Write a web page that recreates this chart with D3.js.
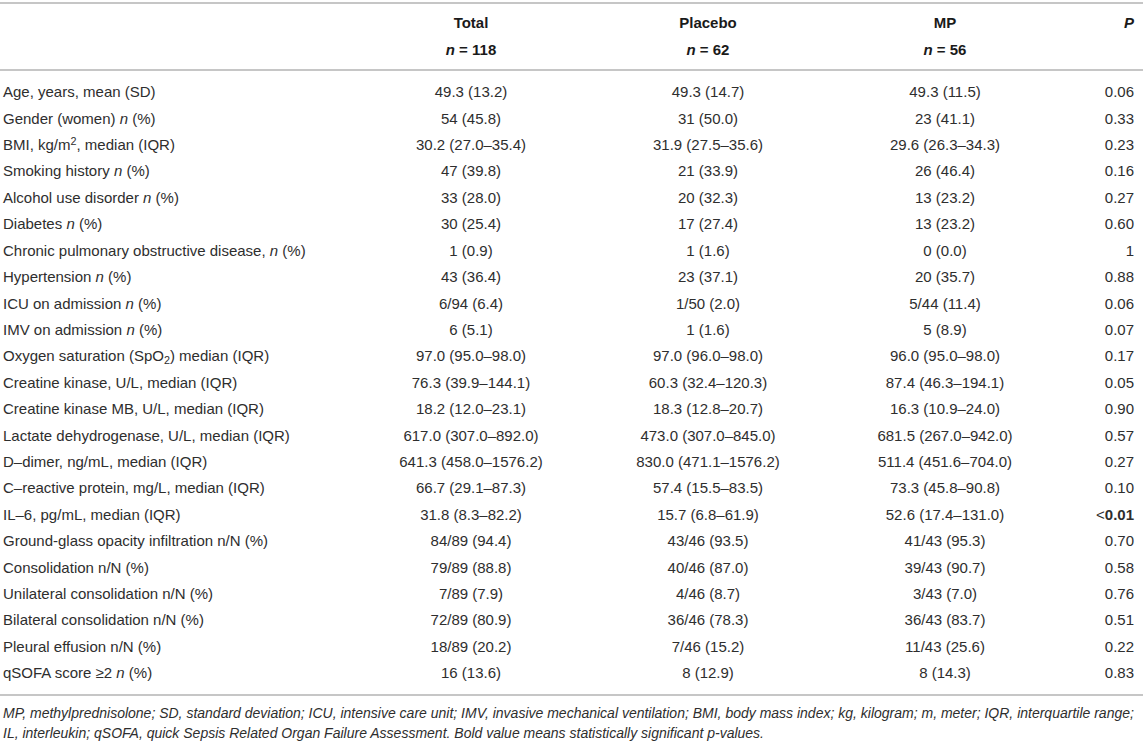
<!DOCTYPE html>
<html><head><meta charset="utf-8">
<script src="https://cdn.jsdelivr.net/npm/d3@7"></script>
<style>
html,body{margin:0;padding:0;background:#fff;}
svg{display:block;font-family:"Liberation Sans",Arial,Helvetica,sans-serif;}
</style></head>
<body>
<svg id="t" width="1143" height="743"></svg>
<script>
// ---- data ----
const columns = ["Total", "Placebo", "MP"];
const columnN = ["*n* = 118", "*n* = 62", "*n* = 56"];
const pHeader = "P";
const labels = [
  "Age, years, mean (SD)",
  "Gender (women) *n* (%)",
  "BMI, kg/m^2^, median (IQR)",
  "Smoking history *n* (%)",
  "Alcohol use disorder *n* (%)",
  "Diabetes *n* (%)",
  "Chronic pulmonary obstructive disease, *n* (%)",
  "Hypertension *n* (%)",
  "ICU on admission *n* (%)",
  "IMV on admission *n* (%)",
  "Oxygen saturation (SpO_2_) median (IQR)",
  "Creatine kinase, U/L, median (IQR)",
  "Creatine kinase MB, U/L, median (IQR)",
  "Lactate dehydrogenase, U/L, median (IQR)",
  "D–dimer, ng/mL, median (IQR)",
  "C–reactive protein, mg/L, median (IQR)",
  "IL–6, pg/mL, median (IQR)",
  "Ground-glass opacity infiltration n/N (%)",
  "Consolidation n/N (%)",
  "Unilateral consolidation n/N (%)",
  "Bilateral consolidation n/N (%)",
  "Pleural effusion n/N (%)",
  "qSOFA score ≥2 *n* (%)"
];
const totalValues = [
  "49.3 (13.2)", "54 (45.8)", "30.2 (27.0–35.4)", "47 (39.8)", "33 (28.0)",
  "30 (25.4)", "1 (0.9)", "43 (36.4)", "6/94 (6.4)", "6 (5.1)",
  "97.0 (95.0–98.0)", "76.3 (39.9–144.1)", "18.2 (12.0–23.1)", "617.0 (307.0–892.0)",
  "641.3 (458.0–1576.2)", "66.7 (29.1–87.3)", "31.8 (8.3–82.2)", "84/89 (94.4)",
  "79/89 (88.8)", "7/89 (7.9)", "72/89 (80.9)", "18/89 (20.2)", "16 (13.6)"
];
const placeboValues = [
  "49.3 (14.7)", "31 (50.0)", "31.9 (27.5–35.6)", "21 (33.9)", "20 (32.3)",
  "17 (27.4)", "1 (1.6)", "23 (37.1)", "1/50 (2.0)", "1 (1.6)",
  "97.0 (96.0–98.0)", "60.3 (32.4–120.3)", "18.3 (12.8–20.7)", "473.0 (307.0–845.0)",
  "830.0 (471.1–1576.2)", "57.4 (15.5–83.5)", "15.7 (6.8–61.9)", "43/46 (93.5)",
  "40/46 (87.0)", "4/46 (8.7)", "36/46 (78.3)", "7/46 (15.2)", "8 (12.9)"
];
const mpValues = [
  "49.3 (11.5)", "23 (41.1)", "29.6 (26.3–34.3)", "26 (46.4)", "13 (23.2)",
  "13 (23.2)", "0 (0.0)", "20 (35.7)", "5/44 (11.4)", "5 (8.9)",
  "96.0 (95.0–98.0)", "87.4 (46.3–194.1)", "16.3 (10.9–24.0)", "681.5 (267.0–942.0)",
  "511.4 (451.6–704.0)", "73.3 (45.8–90.8)", "52.6 (17.4–131.0)", "41/43 (95.3)",
  "39/43 (90.7)", "3/43 (7.0)", "36/43 (83.7)", "11/43 (25.6)", "8 (14.3)"
];
const pValues = [
  "0.06", "0.33", "0.23", "0.16", "0.27", "0.60", "1", "0.88", "0.06", "0.07",
  "0.17", "0.05", "0.90", "0.57", "0.27", "0.10", "<**0.01**", "0.70", "0.58",
  "0.76", "0.51", "0.22", "0.83"
];
const footnotes = [
  "MP, methylprednisolone; SD, standard deviation; ICU, intensive care unit; IMV, invasive mechanical ventilation; BMI, body mass index; kg, kilogram; m, meter; IQR, interquartile range;",
  "IL, interleukin; qSOFA, quick Sepsis Related Organ Failure Assessment. Bold value means statistically significant p-values."
];

// ---- layout ----
const W = 1143;
const svg = d3.select("#t");
const textColor = "#2e2e2e";
const fs = 15;

const y = d3.scalePoint().domain(d3.range(labels.length)).range([92, 673]);
const xCol = d3.scaleOrdinal().domain(columns).range([471, 708, 945]);
const xP = 1134;

// parse markup: *italic*, **bold**, ^sup^, _sub_
function segments(str) {
  const re = /(\*\*[^*]+\*\*|\*[^*]+\*|\^[^^]+\^|_[^_]+_)/g;
  const out = [];
  let last = 0, m;
  while ((m = re.exec(str)) !== null) {
    if (m.index > last) out.push({t: str.slice(last, m.index)});
    const s = m[0];
    if (s.startsWith("**")) out.push({t: s.slice(2, -2), bold: true});
    else if (s[0] === "*") out.push({t: s.slice(1, -1), italic: true});
    else if (s[0] === "^") out.push({t: s.slice(1, -1), sup: true});
    else out.push({t: s.slice(1, -1), sub: true});
    last = m.index + s.length;
  }
  if (last < str.length) out.push({t: str.slice(last)});
  return out;
}
function rich(sel, str, size) {
  const segs = segments(str);
  let shift = 0;
  segs.forEach(sg => {
    const ts = sel.append("tspan").text(sg.t);
    if (sg.italic) ts.attr("font-style", "italic");
    if (sg.bold) ts.attr("font-weight", "bold");
    let target = 0;
    if (sg.sup) { target = -5; ts.attr("font-size", size * 0.72); }
    if (sg.sub) { target = 3; ts.attr("font-size", size * 0.72); }
    if (target !== shift) { ts.attr("dy", target - shift); shift = target; }
  });
}

// rules
const ruleColor = "#b3b3b3";
[3, 70, 695].forEach(yy => {
  svg.append("line").attr("x1", 0).attr("x2", W).attr("y1", yy).attr("y2", yy)
    .attr("stroke", ruleColor).attr("stroke-width", 1.6);
});

// header
const hdr = svg.append("g").attr("font-weight", "bold").attr("font-size", fs).attr("fill", "#1a1a1a");
columns.forEach((c, i) => {
  hdr.append("text").attr("x", xCol(c)).attr("y", 23).attr("dy", "0.35em")
    .attr("text-anchor", "middle").text(c);
  const t = hdr.append("text").attr("x", xCol(c)).attr("y", 50).attr("dy", "0.35em")
    .attr("text-anchor", "middle");
  rich(t, columnN[i], fs);
});
hdr.append("text").attr("x", xP).attr("y", 23).attr("dy", "0.35em")
  .attr("text-anchor", "end").attr("font-style", "italic").text(pHeader);

// body
const body = svg.append("g").attr("font-size", fs).attr("fill", textColor);
labels.forEach((lab, i) => {
  const t = body.append("text").attr("x", 3).attr("y", y(i)).attr("dy", "0.35em");
  rich(t, lab, fs);
  [totalValues, placeboValues, mpValues].forEach((arr, j) => {
    body.append("text").attr("x", xCol(columns[j])).attr("y", y(i)).attr("dy", "0.35em")
      .attr("text-anchor", "middle").text(arr[i]);
  });
  const p = body.append("text").attr("x", xP).attr("y", y(i)).attr("dy", "0.35em")
    .attr("text-anchor", "end");
  rich(p, pValues[i], fs);
});

// footnotes
const fn = svg.append("g").attr("font-size", 14).attr("font-style", "italic").attr("fill", textColor);
footnotes.forEach((f, i) => {
  fn.append("text").attr("x", 3).attr("y", 713 + i * 20).attr("dy", "0.35em").text(f);
});
</script>
</body></html>
